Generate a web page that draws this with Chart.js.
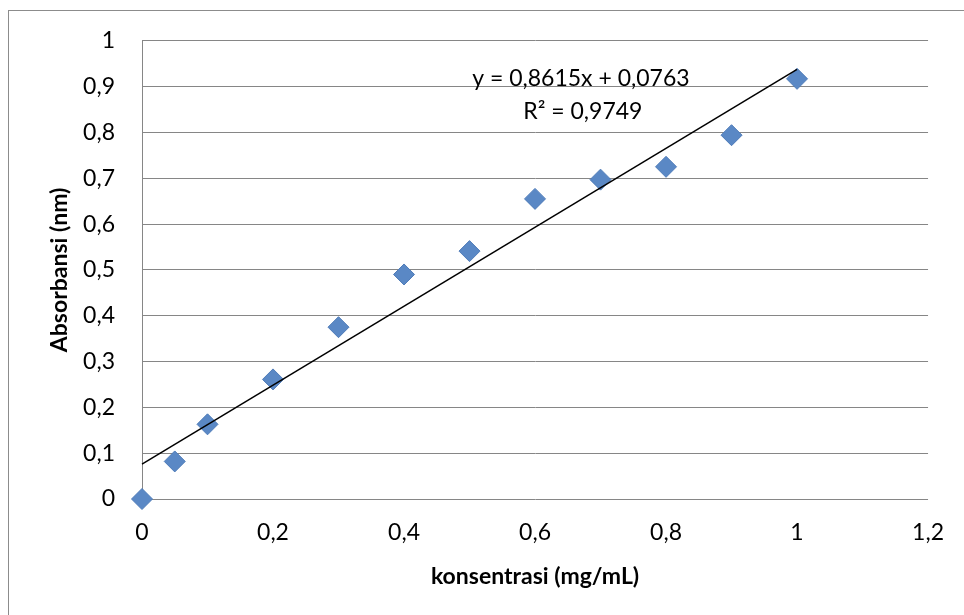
<!DOCTYPE html>
<html>
<head>
<meta charset="utf-8">
<script src="https://cdn.jsdelivr.net/npm/chart.js@4/dist/chart.umd.min.js"></script>
<style>
html,body{margin:0;padding:0;background:#fff;}
#wrap{position:relative;width:964px;height:615px;}
</style>
</head>
<body>
<div id="wrap"><canvas id="c" width="964" height="615"></canvas></div>
<script>
const konsentrasi = [0, 0.05, 0.1, 0.2, 0.3, 0.4, 0.5, 0.6, 0.7, 0.8, 0.9, 1.0];
const absorbansi = [0, 0.082, 0.163, 0.261, 0.375, 0.490, 0.541, 0.655, 0.697, 0.725, 0.794, 0.917];
const trendX = [0, 1];
const trendY = [0.0763, 0.9378];
const equationText = 'y = 0,8615x + 0,0763';
const r2Text = 'R² = 0,9749';
const xTitle = 'konsentrasi (mg/mL)';
const yTitle = 'Absorbansi (nm)';

const FONT = 'Lato, "Open Sans", sans-serif';
const fmt = v => String(Math.round(v * 10) / 10).replace('.', ',');

const borderPlugin = {
  id: 'outerBorder',
  beforeDraw(chart) {
    const ctx = chart.ctx;
    ctx.save();
    ctx.fillStyle = '#fff';
    ctx.fillRect(0, 0, chart.width, chart.height);
    ctx.strokeStyle = '#8c8c8c';
    ctx.lineWidth = 1;
    ctx.strokeRect(8.5, 10.5, 2000, 2000);
    ctx.restore();
  }
};

const eqPlugin = {
  id: 'equation',
  afterDatasetsDraw(chart) {
    const ctx = chart.ctx;
    const xs = chart.scales.x, ys = chart.scales.y;
    ctx.save();
    ctx.fillStyle = '#000';
    ctx.font = '23px ' + FONT;
    ctx.textAlign = 'center';
    ctx.textBaseline = 'middle';
    const cx = xs.getPixelForValue(0.67);
    ctx.fillText(equationText, cx, ys.getPixelForValue(0.918));
    ctx.fillText(r2Text, cx + 2, ys.getPixelForValue(0.846));
    ctx.restore();
  }
};

new Chart(document.getElementById('c'), {
  type: 'scatter',
  data: {
    datasets: [
      {
        label: 'Absorbansi',
        data: konsentrasi.map((x, i) => ({x, y: absorbansi[i]})),
        pointStyle: 'rectRot',
        pointRadius: 10.5,
        pointHoverRadius: 10.5,
        backgroundColor: '#5a88c5',
        borderColor: '#4f7cb9',
        borderWidth: 1,
        clip: false,
        order: 2
      },
      {
        label: 'Trendline',
        type: 'line',
        data: trendX.map((x, i) => ({x, y: trendY[i]})),
        borderColor: '#000',
        borderWidth: 1.5,
        pointRadius: 0,
        fill: false,
        clip: false,
        order: 1
      }
    ]
  },
  plugins: [borderPlugin, eqPlugin],
  options: {
    responsive: false,
    animation: false,
    events: [],
    layout: { padding: { left: 0, right: 35, top: 40, bottom: 14 } },
    plugins: { legend: { display: false }, tooltip: { enabled: false } },
    scales: {
      x: {
        type: 'linear',
        min: 0, max: 1.2,
        afterFit(s) { s.height = 615 - 499 - 14; },
        ticks: { stepSize: 0.2, color: '#000', padding: 20, font: { family: FONT, size: 23 }, callback: v => fmt(v), maxRotation: 0 },
        grid: { display: false, drawTicks: false },
        border: { display: false },
        title: { display: true, text: xTitle, color: '#000', font: { family: FONT, size: 23, weight: 'bold' }, padding: { top: 0, bottom: 11 } }
      },
      y: {
        type: 'linear',
        min: 0, max: 1,
        afterFit(s) { s.width = 142; },
        ticks: { stepSize: 0.1, color: '#000', padding: 27, font: { family: FONT, size: 23 }, callback: v => fmt(v) },
        grid: { color: '#868686', lineWidth: 1, drawTicks: false },
        border: { display: true, color: '#868686', width: 1 },
        title: { display: true, text: yTitle, color: '#000', font: { family: FONT, size: 23, weight: 'bold' }, padding: { top: 46, bottom: 0 } }
      }
    }
  }
});
</script>
</body>
</html>
